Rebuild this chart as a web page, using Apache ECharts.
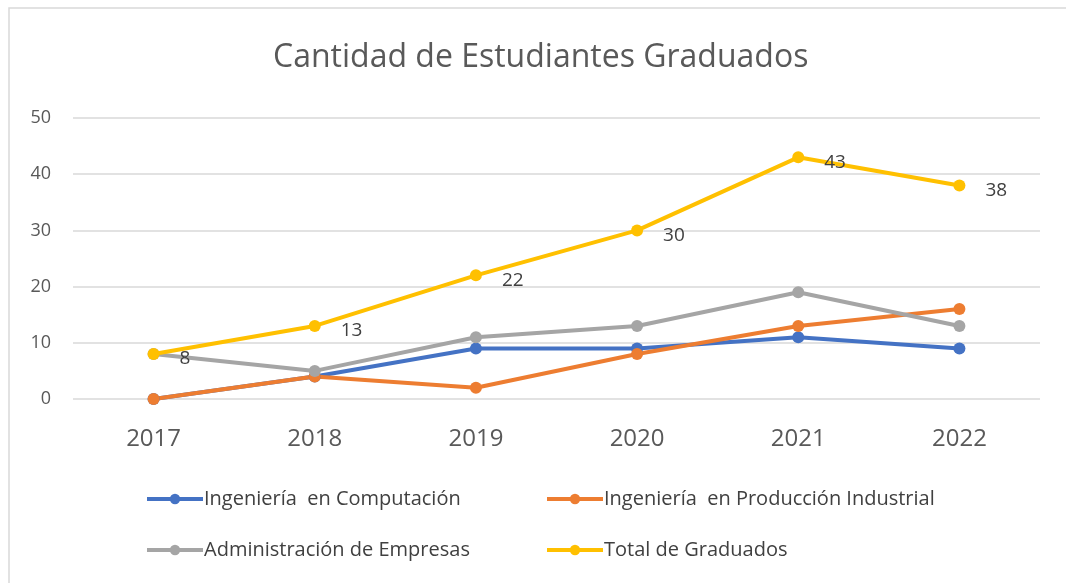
<!DOCTYPE html>
<html>
<head>
<meta charset="utf-8">
<script src="https://cdn.jsdelivr.net/npm/echarts@6/dist/echarts.min.js"></script>
<style>
  html, body { margin: 0; padding: 0; background: #fff; }
  #chart { width: 1066px; height: 583px; }
</style>
</head>
<body>
<div id="chart"></div>
<script>
// datos del grafico
const years = ['2017', '2018', '2019', '2020', '2021', '2022'];
const computacion = [0, 4, 9, 9, 11, 9];
const produccion = [0, 4, 2, 8, 13, 16];
const administracion = [8, 5, 11, 13, 19, 13];
const total = [8, 13, 22, 30, 43, 38];
const yTicks = [0, 10, 20, 30, 40, 50];

const names = [
  'Ingeniería  en Computación',
  'Ingeniería  en Producción Industrial',
  'Administración de Empresas',
  'Total de Graduados'
];
const colors = ['#4472C4', '#ED7D31', '#A5A5A5', '#FFC000'];

const myChart = echarts.init(document.getElementById('chart'));

const font = 'Open Sans, Noto Sans, sans-serif';

const mkLegend = (name, left, top) => ({
  data: [name],
  left: left,
  top: top,
  itemWidth: 56,
  itemHeight: 13,
  itemGap: 0,
  lineStyle: { width: 4 },
  textStyle: { color: '#404040', fontSize: 20, fontFamily: font, padding: [0, 0, 0, -4] }
});

const mkSeries = (name, data, color, withLabel) => ({
  name: name,
  type: 'line',
  data: data,
  symbol: 'circle',
  symbolSize: 12,
  lineStyle: { width: 4, color: color },
  itemStyle: { color: color },
  z: withLabel ? 5 : 3,
  label: {
    show: withLabel,
    position: 'right',
    distance: 20,
    offset: [0, 5],
    color: '#404040',
    fontSize: 19,
    fontFamily: font
  }
});

const options = {
  animation: false,
  backgroundColor: '#fff',
  graphic: [{
    type: 'rect',
    shape: { x: 9, y: 8, width: 1060, height: 580 },
    style: { fill: 'none', stroke: '#d9d9d9', lineWidth: 1.5 },
    silent: true
  }],
  title: {
    text: 'Cantidad de Estudiantes Graduados',
    left: 268,
    top: 37,
    textStyle: { color: '#595959', fontSize: 32, fontWeight: 'normal', fontFamily: font }
  },
  legend: [
    mkLegend(names[0], 140, 484),
    mkLegend(names[1], 540, 484),
    mkLegend(names[2], 140, 535),
    mkLegend(names[3], 540, 535)
  ],
  grid: { left: 73, right: 26, top: 118, bottom: 184, containLabel: false },
  xAxis: {
    type: 'category',
    data: years,
    boundaryGap: true,
    axisLine: { show: false },
    axisTick: { show: false },
    axisLabel: { color: '#595959', fontSize: 24, fontFamily: font, margin: 28 }
  },
  yAxis: {
    type: 'value',
    min: yTicks[0],
    max: yTicks[yTicks.length - 1],
    interval: 10,
    axisLine: { show: false },
    axisTick: { show: false },
    axisLabel: { color: '#595959', fontSize: 18, fontFamily: font, margin: 22 },
    splitLine: { lineStyle: { color: '#d9d9d9', width: 1.5 } }
  },
  series: [
    mkSeries(names[0], computacion, colors[0], false),
    mkSeries(names[1], produccion, colors[1], false),
    mkSeries(names[2], administracion, colors[2], false),
    mkSeries(names[3], total, colors[3], true)
  ]
};

myChart.setOption(options);
</script>
</body>
</html>
